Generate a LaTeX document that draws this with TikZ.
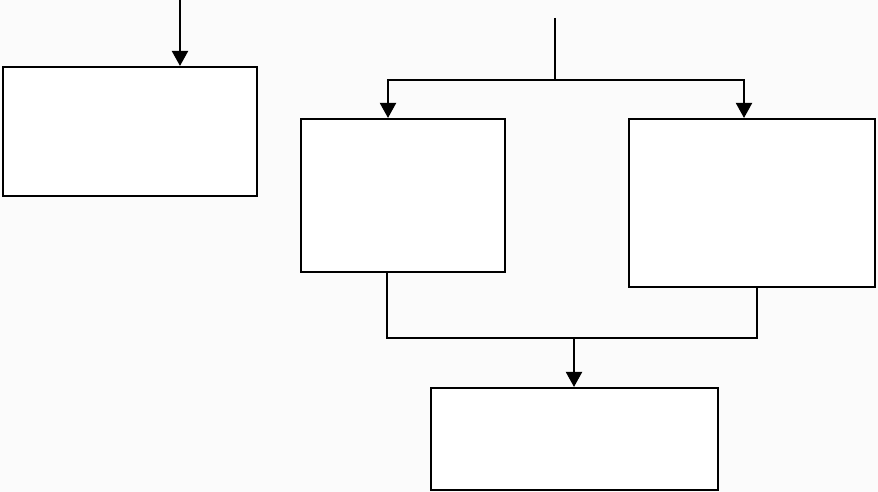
\documentclass[tikz,border=0pt]{standalone}
\usetikzlibrary{arrows.meta}

\begin{document}
\begin{tikzpicture}[
    x=0.02cm, y=-0.02cm,
    block/.style={rectangle, draw, line width=1.2pt, fill=white, inner sep=0pt},
    line/.style={draw, line width=1.2pt},
    arrow/.style={line, -{Triangle[width=0.32cm, length=0.3cm]}},
]
\useasboundingbox (0,0) rectangle (878,492);
\fill[gray!3] (0,0) rectangle (878,492);
\node[block, minimum width=5.08cm, minimum height=2.58cm] (a) at (130,131.5) {};
\node[block, minimum width=4.08cm, minimum height=3.06cm] (b) at (403,195.5) {};
\node[block, minimum width=4.92cm, minimum height=3.36cm] (c) at (752,203) {};
\node[block, minimum width=5.74cm, minimum height=2.04cm] (d) at (574.5,439) {};
\coordinate (in) at (180,0);
\coordinate (top) at (555,18);
\coordinate (split) at (555,80);
\coordinate (merge) at (574,338);
\draw[arrow] (in) -- (in |- a.north);
\draw[line] (top) -- (split);
\draw[arrow] (split) -| ([xshift=-0.3cm]b.north);
\draw[arrow] (split) -| ([xshift=-0.16cm]c.north);
\draw[line] ([xshift=-0.32cm]b.south) |- (merge) -| ([xshift=0.1cm]c.south);
\draw[arrow] (merge) -- (merge |- d.north);
\end{tikzpicture}
\end{document}
